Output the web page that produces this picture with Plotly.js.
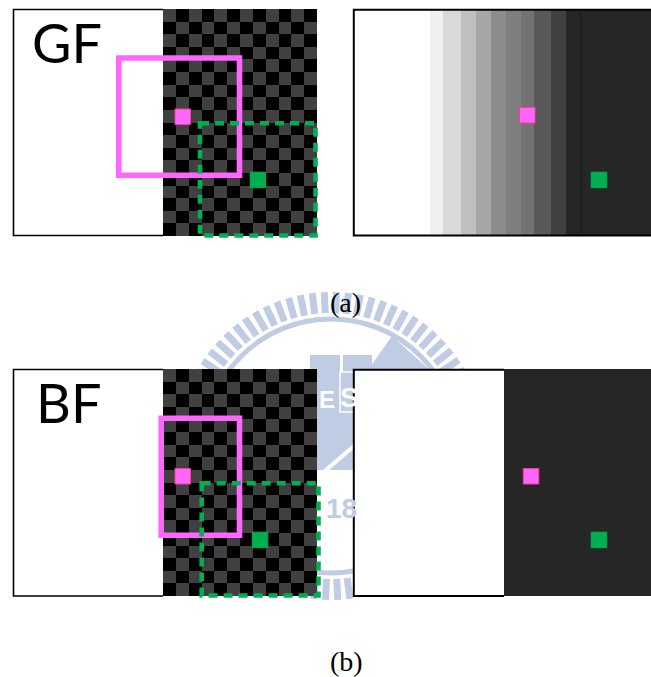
<!DOCTYPE html>
<html>
<head>
<meta charset="utf-8">
<script src="https://cdn.plot.ly/plotly-3.0.1.min.js"></script>
<style>html,body{margin:0;padding:0;background:#fff;}#chart{width:651px;height:677px;}</style>
</head>
<body>
<div id="chart"></div>
<script>
// ---------- DATA ----------
// checkerboard rows (gray level 0-255), top row starts with gray
const checkerRowA = [64, 0, 64, 0, 64, 0, 64, 0, 64, 0, 64, 0];
const checkerRowB = [0, 64, 0, 64, 0, 64, 0, 64, 0, 64, 0, 64];
const checkerRowCount = 18;
// grey levels of the strips in panel (a), right
const gradientLevels = [255, 240, 217, 191, 166, 140, 127, 115, 89, 64, 38, 38];
// panel (b), right: white then dark
const stepLevels = [255, 38];
// labels
const panelLabels = ["GF", "BF"];
const captionLabels = ["(a)", "(b)"];

// ---------- LAYOUT CONSTANTS (pixels) ----------
const W = 651, H = 677;
const PINK = "#FF66FF", GREEN = "#00B050", WM = "rgb(192,203,228)";
const grayScale = [[0, "rgb(0,0,0)"], [1, "rgb(255,255,255)"]];

const checkerZ = [];
for (let r = 0; r < checkerRowCount; r++) checkerZ.push(r % 2 === 0 ? checkerRowA : checkerRowB);

function checkerTrace(xL, xR, yT, yB) {
  const dx = (xR - xL) / checkerRowA.length, dy = (yB - yT) / checkerRowCount;
  return {type: "heatmap", z: checkerZ, x0: xL + dx / 2, dx: dx, y0: yT + dy / 2, dy: dy,
    colorscale: grayScale, zmin: 0, zmax: 255, showscale: false, hoverinfo: "skip", zsmooth: false};
}
function stripTrace(edges, levels, yT, yB) {
  return {type: "heatmap", z: [levels], x: edges, y: [yT, yB],
    colorscale: grayScale, zmin: 0, zmax: 255, showscale: false, hoverinfo: "skip", zsmooth: false};
}

const traces = [
  checkerTrace(163, 317, 9, 236),
  checkerTrace(163, 317, 369, 596),
  stripTrace([353, 430, 443, 461, 476, 491, 506, 521, 534, 551, 566, 581, 652], gradientLevels, 9.5, 235.5),
  stripTrace([353, 504, 652], stepLevels, 369, 596)
];

// ---------- WATERMARK (decoration) ----------
const shapes = [];
const cx = 331, cy = 446;
let tickPath = "";
for (let k = 0; k < 80; k++) {
  const a = (k * 4.5 + 2) * Math.PI / 180;
  const ux = Math.sin(a), uy = -Math.cos(a), px = Math.cos(a), py = Math.sin(a);
  const r1 = 133, r2 = 154, hw = 3.5;
  const p = [
    [cx + ux * r1 - px * hw, cy + uy * r1 - py * hw],
    [cx + ux * r2 - px * hw, cy + uy * r2 - py * hw],
    [cx + ux * r2 + px * hw, cy + uy * r2 + py * hw],
    [cx + ux * r1 + px * hw, cy + uy * r1 + py * hw]
  ];
  tickPath += "M" + p.map(q => q[0].toFixed(1) + "," + q[1].toFixed(1)).join("L") + "Z ";
}
shapes.push({type: "path", path: tickPath, fillcolor: WM, line: {width: 0}, layer: "below"});
shapes.push({type: "circle", x0: cx - 127, x1: cx + 127, y0: cy - 127, y1: cy + 127,
  line: {color: WM, width: 5}, layer: "below"});
shapes.push({type: "rect", x0: 310, x1: 372, y0: 355, y1: 470, fillcolor: WM, line: {width: 0}, layer: "below"});
shapes.push({type: "line", x0: 341.5, x1: 341.5, y0: 355, y1: 372, line: {color: "white", width: 3}, layer: "below"});
shapes.push({type: "path", path: "M368,370 L392,336 L430,370 Z", fillcolor: WM, line: {width: 0}, layer: "below"});
shapes.push({type: "rect", x0: 340, x1: 356, y0: 372, y1: 412, fillcolor: "rgba(0,0,0,0)", line: {color: "white", width: 1.5}, layer: "below"});
shapes.push({type: "line", x0: 312, y0: 482, x1: 375, y1: 428, line: {color: "white", width: 4}, layer: "below"});

// ---------- PANEL BACKGROUNDS / BORDERS ----------
shapes.push({type: "rect", x0: 13, x1: 164, y0: 9.5, y1: 235.5, fillcolor: "white", line: {width: 0}, layer: "below"});
shapes.push({type: "rect", x0: 13, x1: 164, y0: 369.5, y1: 596, fillcolor: "white", line: {width: 0}, layer: "below"});
shapes.push({type: "path", path: "M163,9.5 H13.5 V235.5 H163", line: {color: "black", width: 1.6}, layer: "above"});
shapes.push({type: "path", path: "M163,369.5 H13.5 V596 H163", line: {color: "black", width: 1.6}, layer: "above"});
shapes.push({type: "path", path: "M655,9.8 H353.8 V235.5 H655", line: {color: "black", width: 2}, layer: "above"});
shapes.push({type: "path", path: "M504,369.8 H353.8 V596 H504", line: {color: "black", width: 2}, layer: "above"});
shapes.push({type: "line", x0: 581, x1: 581, y0: 10, y1: 235, line: {color: "#1a1a1a", width: 1}, layer: "above"});

// ---------- MARKERS ----------
function box(x0, x1, y0, y1, color, w, dash) {
  shapes.push({type: "rect", x0, x1, y0, y1, fillcolor: "rgba(0,0,0,0)",
    line: {color, width: w, dash: dash || "solid"}, layer: "above"});
}
function sq(x0, y0, color, edge) {
  shapes.push({type: "rect", x0, x1: x0 + 15.5, y0, y1: y0 + 15.5, fillcolor: color,
    line: {color: edge, width: 1}, layer: "above"});
}
// panel (a) left
box(118.8, 239.5, 58, 175.2, PINK, 5.6);
box(200, 315.5, 123.2, 235.5, GREEN, 4.6, "9px,6px");
sq(175, 109, PINK, "#ff3a8c");
sq(250.2, 172.2, GREEN, GREEN);
// panel (a) right
sq(519.5, 107.5, PINK, "#ff3a8c");
sq(591.2, 172.2, GREEN, GREEN);
// panel (b) left
box(161.2, 239.5, 418.2, 535.3, PINK, 5.6);
box(201.7, 318.5, 483.2, 595.5, GREEN, 4.6, "9px,6px");
sq(175, 468.5, PINK, "#ff3a8c");
sq(252.3, 532.2, GREEN, GREEN);
// panel (b) right
sq(523.3, 468.5, PINK, "#ff3a8c");
sq(591.2, 532.2, GREEN, GREEN);

// ---------- TEXT ----------
const annotations = [
  {x: 30, y: 42, text: panelLabels[0], xanchor: "left", yanchor: "middle", showarrow: false,
    font: {family: "Lato, 'Open Sans', sans-serif", size: 54, color: "black"}},
  {x: 34, y: 402, text: panelLabels[1], xanchor: "left", yanchor: "middle", showarrow: false,
    font: {family: "Lato, 'Open Sans', sans-serif", size: 54, color: "black"}},
  {x: 345, y: 302, text: captionLabels[0], xanchor: "center", yanchor: "middle", showarrow: false,
    font: {family: "'Liberation Serif', serif", size: 28, color: "black"}},
  {x: 346, y: 661, text: captionLabels[1], xanchor: "center", yanchor: "middle", showarrow: false,
    font: {family: "'Liberation Serif', serif", size: 28, color: "black"}},
  // watermark letters
  {x: 327, y: 399, text: "<b>E</b>", showarrow: false, font: {family: "Liberation Sans", size: 24, color: "white"}},
  {x: 349, y: 397, text: "<b>S</b>", showarrow: false, font: {family: "Liberation Sans", size: 28, color: "white"}},
  {x: 341, y: 508, text: "<b>18</b>", showarrow: false, font: {family: "Liberation Sans", size: 28, color: WM}}
];

const layout = {
  width: W, height: H, margin: {l: 0, r: 0, t: 0, b: 0, pad: 0},
  paper_bgcolor: "white", plot_bgcolor: "white", showlegend: false,
  xaxis: {range: [0, W], visible: false, fixedrange: true},
  yaxis: {range: [H, 0], visible: false, fixedrange: true},
  shapes: shapes, annotations: annotations
};
Plotly.newPlot("chart", traces, layout, {staticPlot: true, displayModeBar: false});
</script>
</body>
</html>
